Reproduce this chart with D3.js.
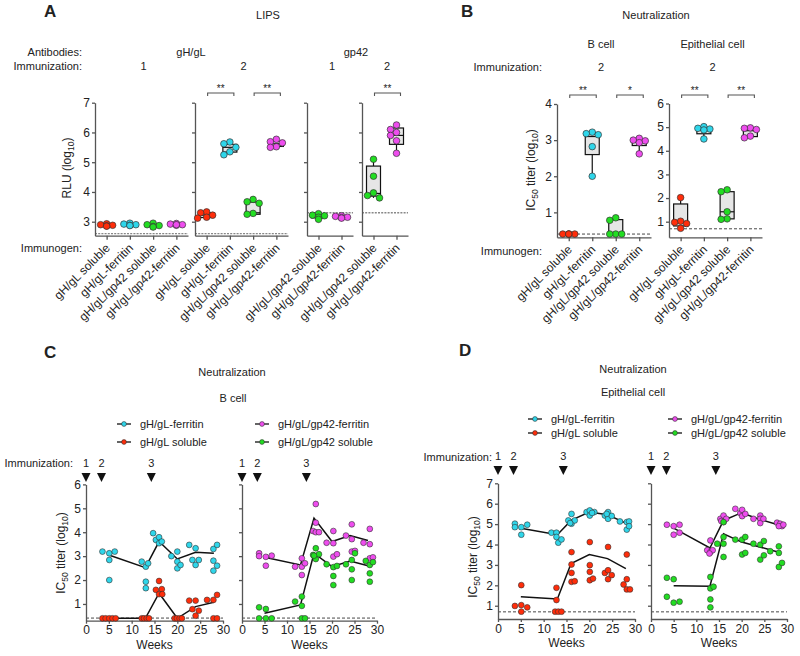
<!DOCTYPE html>
<html>
<head>
<meta charset="utf-8">
<script src="https://cdn.jsdelivr.net/npm/d3@7"></script>
<style>
  body { margin: 0; background: #fff; }
  svg { display: block; }
  text { font-family: 'Liberation Sans', Arial, sans-serif; fill: #222; }
</style>
</head>
<body>
<script>
'use strict';

const groups = ['gH/gL soluble', 'gH/gL-ferritin', 'gH/gL/gp42 soluble', 'gH/gL/gp42-ferritin'];
const groupColors = ['#ff2d0a', '#2fd6ea', '#22dd22', '#ee4dee'];

// A: LIPS, RLU (log10); box values are [q1, median, q3]
const lipsGhgl1 = [[2.93, 2.9, 2.88, 2.86, 2.85], [2.95, 2.92, 2.9, 2.88, 2.87], [2.95, 2.9, 2.87, 2.84, 2.82], [2.94, 2.92, 2.9, 2.88, 2.9]];
const lipsGhgl1Box = [[2.86, 2.88, 2.92], [2.88, 2.9, 2.93], [2.84, 2.87, 2.91], [2.88, 2.9, 2.93]];
const lipsGhgl2 = [[3.33, 3.3, 3.22, 3.15, 3.12], [5.68, 5.62, 5.5, 5.35, 5.25], [3.75, 3.67, 3.62, 3.28, 3.25], [5.77, 5.69, 5.65, 5.52, 5.5]];
const lipsGhgl2Box = [[3.14, 3.22, 3.3], [5.34, 5.5, 5.6], [3.25, 3.3, 3.66], [5.53, 5.62, 5.7]];
const lipsGp421 = [[3.27, 3.22, 3.2, 3.15, 3.08], [3.2, 3.18, 3.15, 3.14, 3.12]];
const lipsGp421Box = [[3.13, 3.2, 3.24], [3.13, 3.15, 3.19]];
const lipsGp422 = [[5.1, 4.53, 3.97, 3.88, 3.8], [6.25, 6.1, 6.0, 5.9, 5.72, 5.3]];
const lipsGp422Box = [[3.86, 3.95, 4.87], [5.6, 5.9, 6.15]];

// B: neutralization IC50 titer (log10), immunization 2
const bcellNeut = [[0.4, 0.4, 0.4, 0.4, 0.4], [3.22, 3.18, 3.15, 2.82, 2.0], [0.85, 0.78, 0.4, 0.4, 0.4], [3.05, 3.0, 2.98, 2.93, 2.62]];
const bcellNeutBox = [[0.4, 0.4, 0.4], [2.6, 3.1, 3.2], [0.4, 0.4, 0.8], [2.85, 2.95, 3.0]];
const epiNeut = [[2.02, 1.02, 0.97, 0.92, 0.72], [5.02, 4.95, 4.92, 4.88, 4.5], [2.35, 2.27, 1.42, 1.12, 1.1], [4.97, 4.95, 4.9, 4.62, 4.55]];
const epiNeutBox = [[0.82, 0.97, 1.75], [4.72, 4.88, 4.95], [1.12, 1.42, 2.27], [4.6, 4.85, 4.92]];

// C, D: time courses, points are [week, value]; lines are group means at lineWeeks
const lineWeeks = [5, 13, 16, 20, 24, 28];
const immunizationWeeks = [0, 3.4, 14.3];

const bcellGhglFerritin = [[3.6, 3.19], [5.1, 3.12], [5.1, 2.84], [5.1, 2.0], [6.3, 3.19], [12.2, 2.77], [13.1, 2.56], [13.6, 2.70], [13.1, 1.93], [13.1, 1.66], [14.7, 3.96], [15.3, 3.68], [16.0, 3.79], [16.0, 3.54], [16.6, 3.61], [18.7, 3.0], [20.0, 3.19], [20.0, 2.77], [20.0, 2.49], [20.7, 2.63], [22.6, 3.47], [24.0, 3.33], [23.3, 2.84], [24.0, 2.63], [24.7, 2.84], [27.9, 3.3], [28.7, 3.47], [27.9, 2.81], [28.7, 2.6], [27.9, 2.39]];
const bcellGhglFerritinMean = [3.05, 2.52, 3.61, 2.88, 3.16, 3.12];
const bcellGhglSoluble = [[3.6, 0.4], [4.3, 0.4], [5.1, 0.4], [5.8, 0.4], [6.5, 0.4], [12.2, 0.4], [12.7, 0.4], [13.3, 0.4], [13.8, 0.4], [15.3, 1.59], [16.0, 1.96], [16.6, 1.62], [16.0, 1.41], [16.7, 1.41], [19.4, 0.4], [19.9, 0.4], [20.5, 0.4], [21.0, 0.4], [22.6, 1.14], [24.0, 1.14], [23.3, 0.78], [24.7, 0.72], [24.0, 0.51], [26.5, 1.17], [27.9, 1.17], [28.7, 1.38], [27.9, 0.4], [28.7, 0.4]];
const bcellGhglSolubleMean = [0.4, 0.4, 1.45, 0.4, 0.89, 1.07];
const bcellGp42Ferritin = [[3.8, 3.12], [3.8, 3.0], [5.3, 2.97], [5.3, 2.6], [6.6, 3.02], [11.8, 2.56], [13.3, 2.91], [13.3, 2.56], [13.3, 2.21], [14.0, 2.7], [15.8, 4.05], [16.4, 5.18], [16.4, 4.4], [16.4, 4.0], [17.1, 4.0], [18.8, 3.56], [20.3, 4.05], [20.3, 3.54], [20.3, 2.98], [21.1, 3.08], [23.1, 3.86], [24.4, 4.33], [24.4, 3.71], [24.4, 3.19], [25.1, 3.22], [27.0, 3.56], [28.4, 4.14], [28.4, 3.5], [28.4, 2.91], [29.1, 2.95]];
const bcellGp42FerritinMean = [2.95, 2.63, 4.59, 3.61, 3.86, 3.65];
const bcellGp42Soluble = [[3.8, 0.86], [5.3, 0.79], [3.8, 0.4], [5.3, 0.4], [6.6, 0.4], [11.8, 1.1], [13.3, 1.31], [13.3, 0.92], [13.3, 0.4], [14.0, 0.4], [15.8, 3.05], [16.4, 3.33], [16.4, 2.88], [17.1, 3.08], [16.0, 3.02], [18.8, 2.66], [20.3, 2.54], [20.3, 2.17], [20.3, 1.79], [21.1, 2.59], [23.1, 2.66], [24.4, 2.84], [24.4, 2.45], [24.4, 2.0], [25.1, 3.12], [27.5, 2.8], [28.4, 2.63], [28.4, 2.28], [28.4, 1.93], [29.1, 2.75]];
const bcellGp42SolubleMean = [0.61, 0.96, 3.12, 2.56, 2.80, 2.6];

const epiGhglFerritin = [[3.7, 5.02], [3.7, 4.85], [5.1, 4.85], [5.1, 4.48], [6.4, 4.97], [11.7, 4.58], [12.8, 4.58], [12.8, 4.37], [13.2, 4.09], [13.9, 4.25], [16.1, 5.5], [15.4, 5.18], [16.1, 5.02], [16.8, 5.18], [15.8, 5.05], [19.4, 5.59], [20.1, 5.67], [20.1, 5.42], [21.1, 5.59], [20.6, 5.55], [23.4, 5.42], [24.1, 5.59], [24.1, 5.26], [24.9, 5.4], [23.8, 5.5], [26.7, 5.13], [28.2, 5.1], [28.2, 4.73], [28.7, 5.13], [28.7, 4.9]];
const epiGhglFerritinMean = [4.8, 4.48, 5.18, 5.59, 5.46, 5.05];
const epiGhglSoluble = [[3.7, 0.99], [5.1, 2.01], [5.1, 1.03], [5.1, 0.71], [6.4, 0.92], [12.8, 1.88], [12.8, 1.28], [12.5, 0.71], [13.2, 0.71], [13.9, 0.71], [16.1, 3.63], [16.1, 3.02], [16.1, 2.61], [16.1, 2.17], [16.8, 2.2], [20.1, 4.12], [20.1, 2.99], [20.1, 2.66], [20.1, 2.25], [20.8, 2.33], [24.1, 3.88], [23.4, 2.61], [24.1, 2.74], [24.1, 2.3], [24.9, 2.5], [28.2, 3.51], [27.5, 2.04], [28.2, 2.3], [28.2, 1.8], [28.9, 1.8]];
const epiGhglSolubleMean = [1.44, 1.33, 3.07, 3.51, 3.31, 2.82];
const epiGp42Ferritin = [[3.5, 4.97], [5.0, 4.9], [5.0, 4.48], [6.3, 4.97], [6.3, 4.58], [12.4, 3.72], [13.1, 4.2], [13.1, 3.63], [13.6, 3.72], [12.9, 3.56], [15.3, 5.26], [16.0, 5.42], [16.0, 5.1], [16.6, 5.26], [15.5, 5.15], [18.6, 5.75], [19.7, 5.54], [20.1, 5.7], [20.1, 5.39], [20.8, 5.5], [22.6, 5.26], [24.1, 5.42], [24.1, 5.26], [24.1, 5.05], [24.8, 5.26], [27.8, 5.07], [28.5, 5.02], [28.9, 4.9], [28.2, 4.9], [29.2, 4.97]];
const epiGp42FerritinMean = [4.8, 3.83, 5.18, 5.56, 5.23, 4.97];
const epiGp42Soluble = [[3.5, 2.37], [5.0, 2.3], [3.5, 1.44], [5.0, 1.15], [6.3, 1.2], [13.1, 2.41], [13.1, 1.85], [13.8, 1.93], [13.1, 1.31], [13.1, 0.92], [14.6, 4.04], [16.0, 4.37], [16.0, 4.04], [16.0, 3.39], [16.0, 5.1], [18.6, 4.24], [20.1, 4.24], [20.8, 4.37], [20.1, 3.51], [20.8, 3.59], [22.6, 4.04], [24.1, 3.99], [24.9, 4.17], [24.1, 3.26], [24.9, 3.47], [26.3, 3.67], [28.2, 3.91], [28.2, 3.59], [28.2, 2.9], [28.9, 3.1]];
const epiGp42SolubleMean = [1.98, 1.96, 4.53, 4.12, 3.88, 3.63];

const svg = d3.select('body').append('svg')
    .attr('width', 800)
    .attr('height', 656);

function label(x, y, s, size, anchor, weight) {
    return svg.append('text')
        .attr('x', x).attr('y', y)
        .attr('font-size', size || 11)
        .attr('text-anchor', anchor || 'middle')
        .attr('font-weight', weight || null)
        .text(s);
}

// rotated axis title with subscripts: parts = [[text, isSub], ...]
function yTitle(x, y, parts) {
    const t = svg.append('text')
        .attr('transform', `translate(${x},${y}) rotate(-90)`)
        .attr('text-anchor', 'middle')
        .attr('font-size', 12);
    let prevSub = false;
    parts.forEach(([s, sub]) => {
        t.append('tspan')
            .attr('font-size', sub ? 8.5 : 12)
            .attr('dy', sub ? 3 : (prevSub ? -3 : 0))
            .text(s);
        prevSub = sub;
    });
}

function styleAxis(g) {
    g.select('.domain').attr('stroke', '#555').attr('stroke-width', 1.3);
    g.selectAll('.tick line').attr('stroke', '#555').attr('stroke-width', 1.3);
    g.selectAll('.tick text').attr('font-size', 12).attr('fill', '#222');
}

// simple dodge so that points with close values sit side by side
function dodge(vals, y, r) {
    const offs = [0, -6, 6, -3, 3, -9, 9];
    const placed = [];
    return vals.map(v => {
        const py = y(v);
        let dx = 0;
        for (const o of offs) {
            if (placed.every(p => Math.hypot(p[0] - o, p[1] - py) >= 2 * r - 1.2)) { dx = o; break; }
        }
        placed.push([dx, py]);
        return [dx, py];
    });
}

function columnPanel(o) {
    const g = svg.append('g');
    const x = d3.scalePoint().domain(o.cats).range([o.left, o.right]).padding(0.5);
    const y = d3.scaleLinear().domain(o.domain).range([o.bottom, o.top]);

    g.append('line')
        .attr('x1', o.left).attr('x2', o.right)
        .attr('y1', y(o.lod)).attr('y2', y(o.lod))
        .attr('stroke', o.lodColor).attr('stroke-width', o.lodWidth)
        .attr('stroke-dasharray', o.lodDash);

    const ay = g.append('g')
        .attr('transform', `translate(${o.left},0)`)
        .call(d3.axisLeft(y).tickValues(o.ticks).tickSize(3).tickPadding(2).tickSizeOuter(0)
            .tickFormat(o.tickLabels ? d3.format('d') : ''));
    styleAxis(ay);
    const ax = g.append('g')
        .attr('transform', `translate(0,${o.bottom})`)
        .call(d3.axisBottom(x).tickSize(4).tickSizeOuter(0).tickFormat(''));
    styleAxis(ax);

    g.selectAll('text.cat')
        .data(o.cats)
        .join('text')
        .attr('class', 'cat')
        .attr('transform', c => `translate(${x(c) + 4},${o.bottom + 13}) rotate(-45)`)
        .attr('text-anchor', 'end')
        .attr('font-size', 12)
        .text(c => groups[c]);

    o.cats.forEach((c, i) => {
        const vals = o.points[i];
        const [q1, med, q3] = o.boxes[i];
        const [lo, hi] = d3.extent(vals);
        const cx = x(c);
        const hw = 7;
        g.append('line').attr('x1', cx).attr('x2', cx).attr('y1', y(hi)).attr('y2', y(q3))
            .attr('stroke', '#111').attr('stroke-width', 1.2);
        g.append('line').attr('x1', cx).attr('x2', cx).attr('y1', y(q1)).attr('y2', y(lo))
            .attr('stroke', '#111').attr('stroke-width', 1.2);
        g.append('rect')
            .attr('x', cx - hw).attr('width', 2 * hw)
            .attr('y', y(q3)).attr('height', Math.max(0.5, y(q1) - y(q3)))
            .attr('fill', '#e6e6e6').attr('stroke', '#111').attr('stroke-width', 1.2);
        g.append('line').attr('x1', cx - hw).attr('x2', cx + hw).attr('y1', y(med)).attr('y2', y(med))
            .attr('stroke', '#111').attr('stroke-width', 1.2);
        const pos = dodge(vals, y, 3.3);
        g.selectAll(null)
            .data(pos)
            .join('circle')
            .attr('cx', d => cx + d[0])
            .attr('cy', d => d[1])
            .attr('r', 3.3)
            .attr('fill', groupColors[c])
            .attr('stroke', '#333')
            .attr('stroke-width', 0.7);
    });

    (o.brackets || []).forEach(([a, b, s]) => {
        const x1 = x(a) + 1, x2 = x(b) + 4, by = o.bracketY;
        g.append('path')
            .attr('d', `M${x1},${by + 3}V${by}H${x2}V${by + 3}`)
            .attr('fill', 'none').attr('stroke', '#555').attr('stroke-width', 1.1);
        g.append('text')
            .attr('x', (x1 + x2) / 2).attr('y', by - 1)
            .attr('text-anchor', 'middle').attr('font-size', 10)
            .text(s);
    });
    return x;
}

function timePanel(o) {
    const g = svg.append('g');
    const x = d3.scaleLinear().domain([0, 30]).range([o.left, o.right]);
    const y = d3.scaleLinear().domain(o.domain).range([o.bottom, o.top]);

    g.append('line')
        .attr('x1', o.left).attr('x2', o.right)
        .attr('y1', y(o.lod)).attr('y2', y(o.lod))
        .attr('stroke', '#333').attr('stroke-width', 0.9)
        .attr('stroke-dasharray', '3,2');

    const ay = g.append('g')
        .attr('transform', `translate(${o.left},0)`)
        .call(d3.axisLeft(y).tickValues(o.ticks).tickSize(3).tickPadding(2).tickSizeOuter(0)
            .tickFormat(o.tickLabels ? d3.format('d') : ''));
    styleAxis(ay);
    const ax = g.append('g')
        .attr('transform', `translate(0,${o.bottom})`)
        .call(d3.axisBottom(x).tickValues(d3.range(0, 31, 5)).tickSize(3).tickPadding(2).tickSizeOuter(0));
    styleAxis(ax);

    const line = d3.line().x((d, i) => x(lineWeeks[i])).y(d => y(d));
    o.series.forEach(s => {
        g.append('path')
            .attr('d', line(s.mean))
            .attr('fill', 'none').attr('stroke', '#111').attr('stroke-width', 1.5);
    });
    o.series.forEach(s => {
        g.selectAll(null)
            .data(s.points)
            .join('circle')
            .attr('cx', d => x(d[0]))
            .attr('cy', d => y(d[1]))
            .attr('r', 2.9)
            .attr('fill', groupColors[s.group])
            .attr('stroke', '#333')
            .attr('stroke-width', 0.6);
    });

    // immunization markers
    immunizationWeeks.forEach((w, i) => {
        const cx = x(w);
        g.append('path')
            .attr('d', `M${cx - 4.5},${o.triY}H${cx + 4.5}L${cx},${o.triY + 9}Z`)
            .attr('fill', '#111');
        g.append('text')
            .attr('x', cx).attr('y', o.triY - 6)
            .attr('text-anchor', 'middle').attr('font-size', 11)
            .text(i + 1);
    });

    label((o.left + o.right) / 2, o.bottom + 28, 'Weeks', 12);
}

function legendItem(cx, y, group, text) {
    svg.append('line')
        .attr('x1', cx - 7).attr('x2', cx + 7).attr('y1', y).attr('y2', y)
        .attr('stroke', '#111').attr('stroke-width', 1.3);
    svg.append('circle')
        .attr('cx', cx).attr('cy', y).attr('r', 2.4)
        .attr('fill', groupColors[group]).attr('stroke', '#333').attr('stroke-width', 0.6);
    label(cx + 16, y + 4, text, 11, 'start');
}

// ---------- Panel A ----------
label(44, 17, 'A', 17, 'start', 'bold');
label(268, 19, 'LIPS');
label(82, 56, 'Antibodies:', 11, 'end');
label(191, 56, 'gH/gL');
label(356, 56, 'gp42');
label(82, 70, 'Immunization:', 11, 'end');
label(82, 252, 'Immunogen:', 11, 'end');
yTitle(71, 168, [['RLU (log', false], ['10', true], [')', false]]);

const aBase = {top: 102.7, bottom: 235.7, domain: [2.53, 7], ticks: [3, 4, 5, 6, 7],
    lodColor: '#888', lodWidth: 1.4, lodDash: '2,1.2', bracketY: 93};
const aPanels = [
    Object.assign({}, aBase, {left: 95, right: 188, cats: [0, 1, 2, 3], points: lipsGhgl1, boxes: lipsGhgl1Box, lod: 2.6, tickLabels: true, imm: '1'}),
    Object.assign({}, aBase, {left: 195, right: 288, cats: [0, 1, 2, 3], points: lipsGhgl2, boxes: lipsGhgl2Box, lod: 2.6, imm: '2',
        brackets: [[0, 1, '**'], [2, 3, '**']]}),
    Object.assign({}, aBase, {left: 307, right: 353, cats: [2, 3], points: lipsGp421, boxes: lipsGp421Box, lod: 3.3, imm: '1'}),
    Object.assign({}, aBase, {left: 362, right: 408, cats: [2, 3], points: lipsGp422, boxes: lipsGp422Box, lod: 3.3, imm: '2',
        brackets: [[2, 3, '**']]})
];
aPanels.forEach(p => {
    columnPanel(p);
    label((p.left + p.right) / 2 + 2, 70, p.imm);
});

// ---------- Panel B ----------
label(461, 17, 'B', 17, 'start', 'bold');
label(656, 19, 'Neutralization');
label(542, 71, 'Immunization:', 11, 'end');
label(542, 255, 'Immunogen:', 11, 'end');
yTitle(535, 170, [['IC', false], ['50', true], [' titer (log', false], ['10', true], [')', false]]);

const bPanels = [
    {left: 557, right: 651, top: 104, bottom: 237.3, domain: [0.31, 4], ticks: [1, 2, 3, 4], tickLabels: true,
        cats: [0, 1, 2, 3], points: bcellNeut, boxes: bcellNeutBox, lod: 0.4, title: 'B cell',
        brackets: [[0, 1, '**'], [2, 3, '*']]},
    {left: 669, right: 762, top: 103.5, bottom: 237.3, domain: [0.34, 6], ticks: [1, 2, 3, 4, 5, 6], tickLabels: true,
        cats: [0, 1, 2, 3], points: epiNeut, boxes: epiNeutBox, lod: 0.7, title: 'Epithelial cell',
        brackets: [[0, 1, '**'], [2, 3, '**']]}
];
bPanels.forEach(p => {
    Object.assign(p, {lodColor: '#333', lodWidth: 0.9, lodDash: '3,2', bracketY: 95});
    columnPanel(p);
    const cx = (p.left + p.right) / 2;
    label(cx - 3, 48, p.title);
    label(cx - 3, 71, '2');
});

// ---------- Panel C ----------
label(44, 358, 'C', 17, 'start', 'bold');
label(232, 376, 'Neutralization');
label(233, 402, 'B cell');
legendItem(124, 424, 1, 'gH/gL-ferritin');
legendItem(124, 442, 0, 'gH/gL soluble');
legendItem(262, 424, 3, 'gH/gL/gp42-ferritin');
legendItem(262, 442, 2, 'gH/gL/gp42 soluble');
label(73, 467, 'Immunization:', 11, 'end');
yTitle(65, 553, [['IC', false], ['50', true], [' titer (log', false], ['10', true], [')', false]]);

const cBase = {top: 484.4, bottom: 620.7, domain: [0.3, 6], ticks: [1, 2, 3, 4, 5, 6], lod: 0.41, triY: 473};
timePanel(Object.assign({}, cBase, {left: 86, right: 223, tickLabels: true, series: [
    {group: 1, points: bcellGhglFerritin, mean: bcellGhglFerritinMean},
    {group: 0, points: bcellGhglSoluble, mean: bcellGhglSolubleMean}
]}));
timePanel(Object.assign({}, cBase, {left: 242, right: 377, series: [
    {group: 3, points: bcellGp42Ferritin, mean: bcellGp42FerritinMean},
    {group: 2, points: bcellGp42Soluble, mean: bcellGp42SolubleMean}
]}));

// ---------- Panel D ----------
label(459, 356, 'D', 17, 'start', 'bold');
label(633, 373, 'Neutralization');
label(633, 396, 'Epithelial cell');
legendItem(535, 419, 1, 'gH/gL-ferritin');
legendItem(535, 433, 0, 'gH/gL soluble');
legendItem(675, 419, 3, 'gH/gL/gp42-ferritin');
legendItem(675, 433, 2, 'gH/gL/gp42 soluble');
label(492, 461, 'Immunization:', 11, 'end');
yTitle(477, 557, [['IC', false], ['50', true], [' titer (log', false], ['10', true], [')', false]]);

const dBase = {top: 483.3, bottom: 619, domain: [0.35, 7], ticks: [1, 2, 3, 4, 5, 6, 7], lod: 0.7, triY: 466};
timePanel(Object.assign({}, dBase, {left: 498, right: 635, tickLabels: true, series: [
    {group: 1, points: epiGhglFerritin, mean: epiGhglFerritinMean},
    {group: 0, points: epiGhglSoluble, mean: epiGhglSolubleMean}
]}));
timePanel(Object.assign({}, dBase, {left: 651, right: 787, series: [
    {group: 3, points: epiGp42Ferritin, mean: epiGp42FerritinMean},
    {group: 2, points: epiGp42Soluble, mean: epiGp42SolubleMean}
]}));
</script>
</body>
</html>
